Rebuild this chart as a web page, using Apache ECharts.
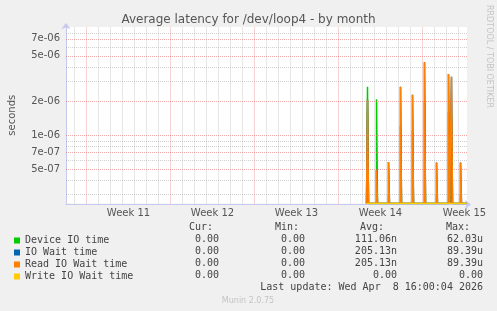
<!DOCTYPE html>
<html><head><meta charset="utf-8">
<script src="https://cdn.jsdelivr.net/npm/echarts@6/dist/echarts.min.js"></script>
<style>html,body{margin:0;padding:0;background:#f0f0f0}#c{width:497px;height:311px}</style>
</head><body><div id="c"></div>
<script>
// ---- data ----
const seriesNames = ['Device IO time', 'IO Wait time', 'Read IO Wait time', 'Write IO Wait time'];
const seriesColors = ['#00cc00', '#0066b3', '#ff8000', '#ffcc00'];
const dataStart = '2026-04-01T08:00:00Z';
const dataEnd = '2026-04-09T16:00:00Z';
const spikeTimes = ['2026-04-01T10:00:00Z','2026-04-02T04:00:00Z','2026-04-03T04:00:00Z','2026-04-04T04:00:00Z','2026-04-05T04:00:00Z','2026-04-06T04:00:00Z','2026-04-07T04:00:00Z','2026-04-08T04:00:00Z','2026-04-08T10:00:00Z','2026-04-09T04:00:00Z'];
const deviceIO    = [2.67e-6, 2.08e-6, 3.0e-7, 1.2e-6, 1.1e-6, 2.0e-6, 3.0e-7, 1.6e-6, 1.5e-6, 3.0e-7];
const ioWait      = [2.04e-6, 4.9e-7, 5.8e-7, 2.67e-6, 2.27e-6, 4.4e-6, 5.75e-7, 3.47e-6, 3.27e-6, 5.75e-7];
const readIOWait  = [2.04e-6, 4.9e-7, 5.8e-7, 2.67e-6, 2.27e-6, 4.4e-6, 5.75e-7, 3.47e-6, 3.27e-6, 5.75e-7];
const writeIOWait = [0, 0, 0, 0, 0, 0, 0, 0, 0, 0];
const stepHours = 2;

const yMajorTicks = [7e-6, 5e-6, 2e-6, 1e-6, 7e-7, 5e-7];
const yMajorLabels = ['7e-06', '5e-06', '2e-06', '1e-06', '7e-07', '5e-07'];
const yMinorTicks = [8e-6, 6e-6, 4e-6, 3e-6, 9e-7, 8e-7, 6e-7, 4e-7, 3e-7];
const weekStarts = ['2026-03-09T00:00:00Z','2026-03-16T00:00:00Z','2026-03-23T00:00:00Z','2026-03-30T00:00:00Z','2026-04-06T00:00:00Z'];
const weekLabels = ['Week 11', 'Week 12', 'Week 13', 'Week 14', 'Week 15'];

const statHeaders = ['Cur:', 'Min:', 'Avg:', 'Max:'];
const statCur = ['0.00', '0.00', '0.00', '0.00'];
const statMin = ['0.00', '0.00', '0.00', '0.00'];
const statAvg = ['111.06n', '205.13n', '205.13n', '0.00'];
const statMax = ['62.03u', '89.39u', '89.39u', '0.00'];
const lastUpdate = 'Last update: Wed Apr  8 16:00:04 2026';

// ---- chart ----
const DAY = 86400000, HOUR = 3600000;
const xMin = Date.UTC(2026, 2, 7, 7, 0), xMax = Date.UTC(2026, 3, 9, 17, 0);
const yMin = 2.5e-7, yMax = 9e-6;
const floor = v => (v <= 0 ? yMin : v); // rrdtool draws zero at the bottom of a log scale

function buildData(values) {
  const d = [[Date.parse(dataStart), floor(0)]];
  spikeTimes.forEach((t, i) => {
    const ts = Date.parse(t);
    d.push([ts, floor(values[i])]);
    d.push([ts + stepHours * HOUR, floor(0)]);
  });
  d.push([Date.parse(dataEnd), floor(0)]);
  return d;
}
const allValues = [deviceIO, ioWait, readIOWait, writeIOWait];

const RED = 'rgba(230,110,110,0.6)', GRAY = 'rgba(170,170,170,0.55)';
const gridLines = [];
yMinorTicks.forEach(v => gridLines.push({ yAxis: Math.log10(v), lineStyle: { color: GRAY, type: 'dotted', width: 1 } }));
yMajorTicks.forEach((v, i) => gridLines.push({ yAxis: Math.log10(v), lineStyle: { color: RED, type: 'dotted', width: 1 },
  label: { show: true, position: 'start', formatter: yMajorLabels[i], distance: 6, color: '#555', fontSize: 10, fontFamily: 'DejaVu Sans' } }));
const weekTs = weekStarts.map(Date.parse);
for (let t = Date.UTC(2026, 2, 8); t < xMax; t += DAY) {
  const major = weekTs.indexOf(t) >= 0;
  gridLines.push({ xAxis: t, lineStyle: { color: major ? RED : GRAY, type: 'dotted', width: 1 } });
}
const weekMids = weekTs.map(t => t + 3.5 * DAY);

const font = 'DejaVu Sans';
const mono = 'DejaVu Sans Mono';
const graphic = [];
graphic.push({ type: 'text', x: 489, y: 5, rotation: -Math.PI / 2,
  style: { text: 'RRDTOOL / TOBI OETIKER', fill: '#c4c4c4', font: '8px ' + font, align: 'left', verticalAlign: 'middle' } });
const colRight = [219, 305, 397, 483];
const hdrRight = [213, 299, 384, 470];
statHeaders.forEach((h, i) => graphic.push({ type: 'text', x: hdrRight[i], y: 227.5,
  style: { text: h, fill: '#444', font: '10px ' + mono, align: 'right', verticalAlign: 'middle' } }));
[statCur, statMin, statAvg, statMax].forEach((col, c) => col.forEach((s, r) => graphic.push({ type: 'text', x: colRight[c], y: 239.5 + r * 12,
  style: { text: s, fill: '#444', font: '10px ' + mono, align: 'right', verticalAlign: 'middle' } })));
graphic.push({ type: 'text', x: 483, y: 287.7,
  style: { text: lastUpdate, fill: '#444', font: '10px ' + mono, align: 'right', verticalAlign: 'middle' } });
graphic.push({ type: 'text', x: 248, y: 300.5,
  style: { text: 'Munin 2.0.75', fill: '#c4c4c4', font: '8px ' + font, align: 'center', verticalAlign: 'middle' } });

const series = [{
  name: '_grid', type: 'line', data: [], yAxisIndex: 1, z: 1, silent: true,
  markLine: { silent: true, symbol: ['none', 'none'], animation: false, label: { show: false }, emphasis: { disabled: true }, data: gridLines }
}];
allValues.forEach((vals, i) => {
  series.push({
    name: seriesNames[i], type: 'line', step: 'end', data: buildData(vals), z: 3 + i,
    showSymbol: false, symbol: 'none', clip: true, silent: true,
    lineStyle: { color: seriesColors[i], width: 1.5 },
    itemStyle: { color: seriesColors[i] },
    areaStyle: i === 3 ? undefined : { origin: 'start', opacity: 0.55, color: seriesColors[i] }
  });
});

const axisLineStyle = { show: true, lineStyle: { color: '#c6c8ee', width: 1 }, symbol: ['none', 'arrow'], symbolSize: [7, 6], symbolOffset: [0, 4] };
const chart = echarts.init(document.getElementById('c'), null, { renderer: 'canvas' });
chart.setOption({
  animation: false,
  backgroundColor: '#f0f0f0',
  title: { text: 'Average latency for /dev/loop4 - by month', left: 'center', top: 9,
    textStyle: { fontFamily: font, fontSize: 12, fontWeight: 'normal', color: '#555' } },
  legend: { data: seriesNames, orient: 'vertical', left: 14, top: 235.5, padding: 0, itemWidth: 6, itemHeight: 6, itemGap: 2,
    icon: 'rect', selectedMode: false,
    textStyle: { fontFamily: mono, fontSize: 10, lineHeight: 10, color: '#444' } },
  grid: { left: 66, right: 30, top: 27, bottom: 107.5, show: true, backgroundColor: '#ffffff', borderWidth: 0,
    containLabel: false, outerBoundsMode: 'none' },
  xAxis: { type: 'value', min: xMin, max: xMax, offset: 1,
    axisLine: axisLineStyle,
    axisTick: { show: false }, splitLine: { show: false },
    axisLabel: { customValues: weekMids, margin: 4, color: '#555', fontFamily: font, fontSize: 10,
      formatter: v => { const i = weekMids.indexOf(v); return i >= 0 ? weekLabels[i] : ''; } } },
  yAxis: [{ type: 'log', min: yMin, max: yMax, name: 'seconds', nameLocation: 'middle', nameRotate: 90, nameGap: 49,
    nameTextStyle: { fontFamily: font, fontSize: 10, color: '#555' },
    axisLine: axisLineStyle,
    axisTick: { show: false }, splitLine: { show: false }, axisLabel: { show: false } },
   { type: 'value', min: Math.log10(yMin), max: Math.log10(yMax), show: false, splitLine: { show: false } }],
  graphic: graphic,
  series: series
});
</script></body></html>
